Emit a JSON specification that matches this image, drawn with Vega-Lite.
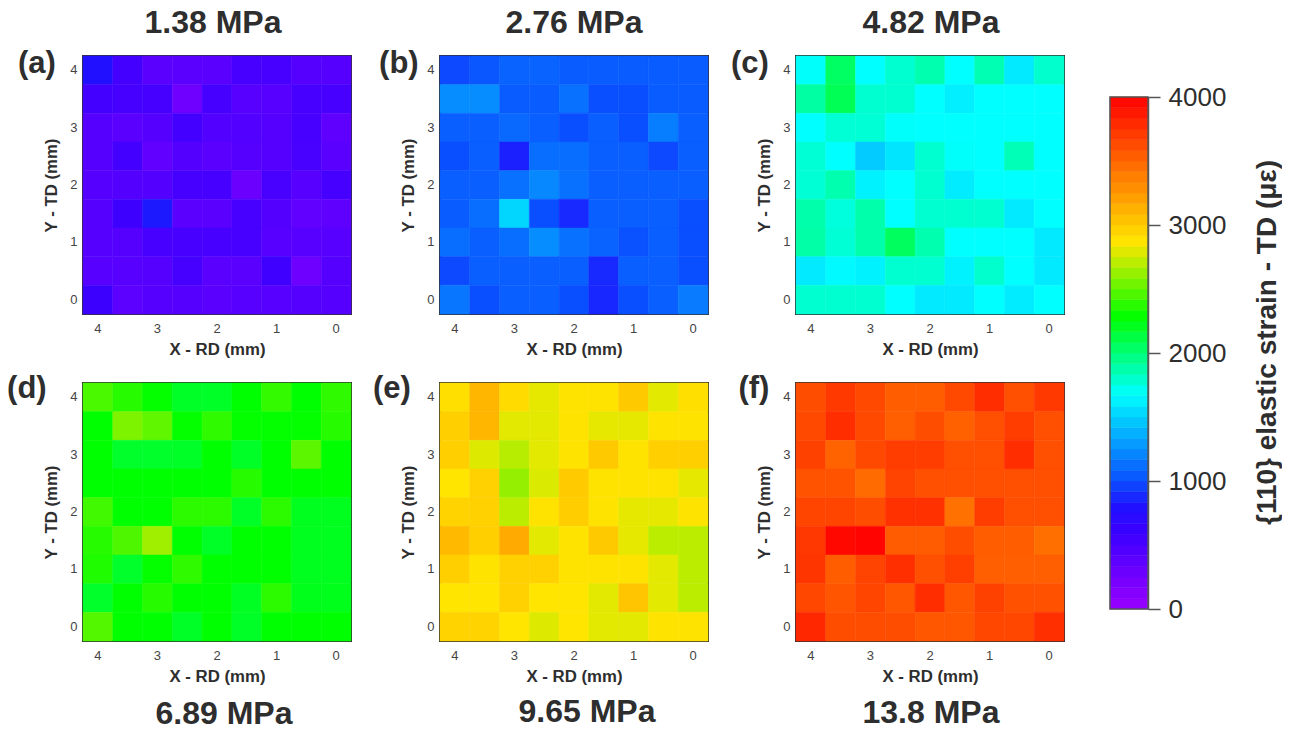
{"$schema":"https://vega.github.io/schema/vega-lite/v6.json","background":"white","padding":{"left":6,"top":6,"right":0,"bottom":0},"spacing":43,
"config":{"view":{"stroke":"#333333","strokeWidth":2},"font":"Liberation Sans","title":{"font":"Liberation Sans","fontSize":32,"fontWeight":"bold","color":"#2e2e2e"},"axis":{"labelFont":"Liberation Sans","titleFont":"Liberation Sans","labelColor":"#444444","titleColor":"#2e2e2e","labelFontSize":13,"titleFontSize":16.8,"titleFontWeight":"bold","ticks":false,"domain":false,"grid":false}},
"datasets":{
"a":[{"x":4,"y":4,"v":800},{"x":3.5,"y":4,"v":540},{"x":3,"y":4,"v":400},{"x":2.5,"y":4,"v":400},{"x":2,"y":4,"v":400},{"x":1.5,"y":4,"v":520},{"x":1,"y":4,"v":520},{"x":0.5,"y":4,"v":430},{"x":0,"y":4,"v":430},
{"x":4,"y":3.5,"v":540},{"x":3.5,"y":3.5,"v":530},{"x":3,"y":3.5,"v":530},{"x":2.5,"y":3.5,"v":270},{"x":2,"y":3.5,"v":530},{"x":1.5,"y":3.5,"v":420},{"x":1,"y":3.5,"v":420},{"x":0.5,"y":3.5,"v":520},{"x":0,"y":3.5,"v":520},
{"x":4,"y":3,"v":430},{"x":3.5,"y":3,"v":400},{"x":3,"y":3,"v":430},{"x":2.5,"y":3,"v":540},{"x":2,"y":3,"v":450},{"x":1.5,"y":3,"v":450},{"x":1,"y":3,"v":430},{"x":0.5,"y":3,"v":520},{"x":0,"y":3,"v":370},
{"x":4,"y":2.5,"v":430},{"x":3.5,"y":2.5,"v":540},{"x":3,"y":2.5,"v":350},{"x":2.5,"y":2.5,"v":440},{"x":2,"y":2.5,"v":400},{"x":1.5,"y":2.5,"v":430},{"x":1,"y":2.5,"v":430},{"x":0.5,"y":2.5,"v":510},{"x":0,"y":2.5,"v":400},
{"x":4,"y":2,"v":430},{"x":3.5,"y":2,"v":440},{"x":3,"y":2,"v":440},{"x":2.5,"y":2,"v":530},{"x":2,"y":2,"v":530},{"x":1.5,"y":2,"v":290},{"x":1,"y":2,"v":510},{"x":0.5,"y":2,"v":420},{"x":0,"y":2,"v":530},
{"x":4,"y":1.5,"v":430},{"x":3.5,"y":1.5,"v":580},{"x":3,"y":1.5,"v":830},{"x":2.5,"y":1.5,"v":400},{"x":2,"y":1.5,"v":400},{"x":1.5,"y":1.5,"v":520},{"x":1,"y":1.5,"v":440},{"x":0.5,"y":1.5,"v":350},{"x":0,"y":1.5,"v":370},
{"x":4,"y":1,"v":430},{"x":3.5,"y":1,"v":430},{"x":3,"y":1,"v":520},{"x":2.5,"y":1,"v":520},{"x":2,"y":1,"v":520},{"x":1.5,"y":1,"v":520},{"x":1,"y":1,"v":420},{"x":0.5,"y":1,"v":420},{"x":0,"y":1,"v":420},
{"x":4,"y":0.5,"v":420},{"x":3.5,"y":0.5,"v":420},{"x":3,"y":0.5,"v":430},{"x":2.5,"y":0.5,"v":530},{"x":2,"y":0.5,"v":400},{"x":1.5,"y":0.5,"v":400},{"x":1,"y":0.5,"v":570},{"x":0.5,"y":0.5,"v":280},{"x":0,"y":0.5,"v":430},
{"x":4,"y":0,"v":590},{"x":3.5,"y":0,"v":390},{"x":3,"y":0,"v":430},{"x":2.5,"y":0,"v":430},{"x":2,"y":0,"v":400},{"x":1.5,"y":0,"v":420},{"x":1,"y":0,"v":420},{"x":0.5,"y":0,"v":430},{"x":0,"y":0,"v":430}],
"b":[{"x":4,"y":4,"v":980},{"x":3.5,"y":4,"v":1030},{"x":3,"y":4,"v":1080},{"x":2.5,"y":4,"v":1080},{"x":2,"y":4,"v":1050},{"x":1.5,"y":4,"v":1050},{"x":1,"y":4,"v":1050},{"x":0.5,"y":4,"v":1050},{"x":0,"y":4,"v":1050},
{"x":4,"y":3.5,"v":1240},{"x":3.5,"y":3.5,"v":1240},{"x":3,"y":3.5,"v":1050},{"x":2.5,"y":3.5,"v":1050},{"x":2,"y":3.5,"v":1130},{"x":1.5,"y":3.5,"v":1000},{"x":1,"y":3.5,"v":1000},{"x":0.5,"y":3.5,"v":1050},{"x":0,"y":3.5,"v":1050},
{"x":4,"y":3,"v":1060},{"x":3.5,"y":3,"v":1060},{"x":3,"y":3,"v":1100},{"x":2.5,"y":3,"v":1060},{"x":2,"y":3,"v":1000},{"x":1.5,"y":3,"v":1060},{"x":1,"y":3,"v":1000},{"x":0.5,"y":3,"v":1180},{"x":0,"y":3,"v":1060},
{"x":4,"y":2.5,"v":1000},{"x":3.5,"y":2.5,"v":1060},{"x":3,"y":2.5,"v":850},{"x":2.5,"y":2.5,"v":1120},{"x":2,"y":2.5,"v":1120},{"x":1.5,"y":2.5,"v":1060},{"x":1,"y":2.5,"v":1060},{"x":0.5,"y":2.5,"v":980},{"x":0,"y":2.5,"v":1060},
{"x":4,"y":2,"v":1060},{"x":3.5,"y":2,"v":1060},{"x":3,"y":2,"v":1130},{"x":2.5,"y":2,"v":1220},{"x":2,"y":2,"v":1130},{"x":1.5,"y":2,"v":1060},{"x":1,"y":2,"v":1060},{"x":0.5,"y":2,"v":1060},{"x":0,"y":2,"v":1060},
{"x":4,"y":1.5,"v":1050},{"x":3.5,"y":1.5,"v":1120},{"x":3,"y":1.5,"v":1520},{"x":2.5,"y":1.5,"v":1000},{"x":2,"y":1.5,"v":880},{"x":1.5,"y":1.5,"v":1060},{"x":1,"y":1.5,"v":1060},{"x":0.5,"y":1.5,"v":1060},{"x":0,"y":1.5,"v":1000},
{"x":4,"y":1,"v":1120},{"x":3.5,"y":1,"v":1060},{"x":3,"y":1,"v":1120},{"x":2.5,"y":1,"v":1240},{"x":2,"y":1,"v":1130},{"x":1.5,"y":1,"v":1080},{"x":1,"y":1,"v":1010},{"x":0.5,"y":1,"v":1060},{"x":0,"y":1,"v":1000},
{"x":4,"y":0.5,"v":980},{"x":3.5,"y":0.5,"v":1060},{"x":3,"y":0.5,"v":1060},{"x":2.5,"y":0.5,"v":1060},{"x":2,"y":0.5,"v":1060},{"x":1.5,"y":0.5,"v":880},{"x":1,"y":0.5,"v":1060},{"x":0.5,"y":0.5,"v":1060},{"x":0,"y":0.5,"v":1000},
{"x":4,"y":0,"v":1150},{"x":3.5,"y":0,"v":1000},{"x":3,"y":0,"v":1060},{"x":2.5,"y":0,"v":1060},{"x":2,"y":0,"v":1000},{"x":1.5,"y":0,"v":870},{"x":1,"y":0,"v":1000},{"x":0.5,"y":0,"v":1060},{"x":0,"y":0,"v":1170}],
"c":[{"x":4,"y":4,"v":1690},{"x":3.5,"y":4,"v":2050},{"x":3,"y":4,"v":1680},{"x":2.5,"y":4,"v":1790},{"x":2,"y":4,"v":1870},{"x":1.5,"y":4,"v":1680},{"x":1,"y":4,"v":1860},{"x":0.5,"y":4,"v":1600},{"x":0,"y":4,"v":1800},
{"x":4,"y":3.5,"v":1900},{"x":3.5,"y":3.5,"v":2080},{"x":3,"y":3.5,"v":1790},{"x":2.5,"y":3.5,"v":1790},{"x":2,"y":3.5,"v":1680},{"x":1.5,"y":3.5,"v":1620},{"x":1,"y":3.5,"v":1680},{"x":0.5,"y":3.5,"v":1680},{"x":0,"y":3.5,"v":1680},
{"x":4,"y":3,"v":1680},{"x":3.5,"y":3,"v":1780},{"x":3,"y":3,"v":1780},{"x":2.5,"y":3,"v":1690},{"x":2,"y":3,"v":1680},{"x":1.5,"y":3,"v":1680},{"x":1,"y":3,"v":1680},{"x":0.5,"y":3,"v":1680},{"x":0,"y":3,"v":1680},
{"x":4,"y":2.5,"v":1780},{"x":3.5,"y":2.5,"v":1680},{"x":3,"y":2.5,"v":1480},{"x":2.5,"y":2.5,"v":1580},{"x":2,"y":2.5,"v":1790},{"x":1.5,"y":2.5,"v":1690},{"x":1,"y":2.5,"v":1680},{"x":0.5,"y":2.5,"v":1850},{"x":0,"y":2.5,"v":1680},
{"x":4,"y":2,"v":1780},{"x":3.5,"y":2,"v":1870},{"x":3,"y":2,"v":1630},{"x":2.5,"y":2,"v":1680},{"x":2,"y":2,"v":1790},{"x":1.5,"y":2,"v":1610},{"x":1,"y":2,"v":1680},{"x":0.5,"y":2,"v":1680},{"x":0,"y":2,"v":1680},
{"x":4,"y":1.5,"v":1880},{"x":3.5,"y":1.5,"v":1760},{"x":3,"y":1.5,"v":1880},{"x":2.5,"y":1.5,"v":1680},{"x":2,"y":1.5,"v":1790},{"x":1.5,"y":1.5,"v":1790},{"x":1,"y":1.5,"v":1790},{"x":0.5,"y":1.5,"v":1600},{"x":0,"y":1.5,"v":1680},
{"x":4,"y":1,"v":1890},{"x":3.5,"y":1,"v":1780},{"x":3,"y":1,"v":1880},{"x":2.5,"y":1,"v":2060},{"x":2,"y":1,"v":1870},{"x":1.5,"y":1,"v":1680},{"x":1,"y":1,"v":1680},{"x":0.5,"y":1,"v":1680},{"x":0,"y":1,"v":1600},
{"x":4,"y":0.5,"v":1600},{"x":3.5,"y":0.5,"v":1660},{"x":3,"y":0.5,"v":1630},{"x":2.5,"y":0.5,"v":1790},{"x":2,"y":0.5,"v":1790},{"x":1.5,"y":0.5,"v":1630},{"x":1,"y":0.5,"v":1800},{"x":0.5,"y":0.5,"v":1680},{"x":0,"y":0.5,"v":1600},
{"x":4,"y":0,"v":1790},{"x":3.5,"y":0,"v":1790},{"x":3,"y":0,"v":1790},{"x":2.5,"y":0,"v":1680},{"x":2,"y":0,"v":1600},{"x":1.5,"y":0,"v":1600},{"x":1,"y":0,"v":1680},{"x":0.5,"y":0,"v":1610},{"x":0,"y":0,"v":1680}],
"d":[{"x":4,"y":4,"v":2450},{"x":3.5,"y":4,"v":2370},{"x":3,"y":4,"v":2290},{"x":2.5,"y":4,"v":2190},{"x":2,"y":4,"v":2190},{"x":1.5,"y":4,"v":2280},{"x":1,"y":4,"v":2400},{"x":0.5,"y":4,"v":2280},{"x":0,"y":4,"v":2390},
{"x":4,"y":3.5,"v":2280},{"x":3.5,"y":3.5,"v":2570},{"x":3,"y":3.5,"v":2500},{"x":2.5,"y":3.5,"v":2290},{"x":2,"y":3.5,"v":2390},{"x":1.5,"y":3.5,"v":2290},{"x":1,"y":3.5,"v":2290},{"x":0.5,"y":3.5,"v":2290},{"x":0,"y":3.5,"v":2370},
{"x":4,"y":3,"v":2280},{"x":3.5,"y":3,"v":2180},{"x":3,"y":3,"v":2180},{"x":2.5,"y":3,"v":2190},{"x":2,"y":3,"v":2280},{"x":1.5,"y":3,"v":2190},{"x":1,"y":3,"v":2280},{"x":0.5,"y":3,"v":2490},{"x":0,"y":3,"v":2280},
{"x":4,"y":2.5,"v":2280},{"x":3.5,"y":2.5,"v":2280},{"x":3,"y":2.5,"v":2280},{"x":2.5,"y":2.5,"v":2280},{"x":2,"y":2.5,"v":2280},{"x":1.5,"y":2.5,"v":2370},{"x":1,"y":2.5,"v":2280},{"x":0.5,"y":2.5,"v":2280},{"x":0,"y":2.5,"v":2280},
{"x":4,"y":2,"v":2430},{"x":3.5,"y":2,"v":2280},{"x":3,"y":2,"v":2280},{"x":2.5,"y":2,"v":2380},{"x":2,"y":2,"v":2380},{"x":1.5,"y":2,"v":2190},{"x":1,"y":2,"v":2380},{"x":0.5,"y":2,"v":2210},{"x":0,"y":2,"v":2210},
{"x":4,"y":1.5,"v":2370},{"x":3.5,"y":1.5,"v":2460},{"x":3,"y":1.5,"v":2650},{"x":2.5,"y":1.5,"v":2280},{"x":2,"y":1.5,"v":2190},{"x":1.5,"y":1.5,"v":2280},{"x":1,"y":1.5,"v":2280},{"x":0.5,"y":1.5,"v":2210},{"x":0,"y":1.5,"v":2210},
{"x":4,"y":1,"v":2350},{"x":3.5,"y":1,"v":2180},{"x":3,"y":1,"v":2290},{"x":2.5,"y":1,"v":2390},{"x":2,"y":1,"v":2280},{"x":1.5,"y":1,"v":2280},{"x":1,"y":1,"v":2280},{"x":0.5,"y":1,"v":2210},{"x":0,"y":1,"v":2210},
{"x":4,"y":0.5,"v":2180},{"x":3.5,"y":0.5,"v":2280},{"x":3,"y":0.5,"v":2370},{"x":2.5,"y":0.5,"v":2280},{"x":2,"y":0.5,"v":2280},{"x":1.5,"y":0.5,"v":2200},{"x":1,"y":0.5,"v":2380},{"x":0.5,"y":0.5,"v":2220},{"x":0,"y":0.5,"v":2220},
{"x":4,"y":0,"v":2470},{"x":3.5,"y":0,"v":2280},{"x":3,"y":0,"v":2280},{"x":2.5,"y":0,"v":2190},{"x":2,"y":0,"v":2280},{"x":1.5,"y":0,"v":2190},{"x":1,"y":0,"v":2280},{"x":0.5,"y":0,"v":2280},{"x":0,"y":0,"v":2280}],
"e":[{"x":4,"y":4,"v":2900},{"x":3.5,"y":4,"v":3100},{"x":3,"y":4,"v":2920},{"x":2.5,"y":4,"v":2810},{"x":2,"y":4,"v":2880},{"x":1.5,"y":4,"v":2880},{"x":1,"y":4,"v":3010},{"x":0.5,"y":4,"v":2800},{"x":0,"y":4,"v":2900},
{"x":4,"y":3.5,"v":2980},{"x":3.5,"y":3.5,"v":3100},{"x":3,"y":3.5,"v":2800},{"x":2.5,"y":3.5,"v":2800},{"x":2,"y":3.5,"v":2880},{"x":1.5,"y":3.5,"v":2810},{"x":1,"y":3.5,"v":2810},{"x":0.5,"y":3.5,"v":2880},{"x":0,"y":3.5,"v":2880},
{"x":4,"y":3,"v":2980},{"x":3.5,"y":3,"v":2790},{"x":3,"y":3,"v":2700},{"x":2.5,"y":3,"v":2800},{"x":2,"y":3,"v":2880},{"x":1.5,"y":3,"v":3010},{"x":1,"y":3,"v":2880},{"x":0.5,"y":3,"v":2980},{"x":0,"y":3,"v":2980},
{"x":4,"y":2.5,"v":2870},{"x":3.5,"y":2.5,"v":2970},{"x":3,"y":2.5,"v":2620},{"x":2.5,"y":2.5,"v":2780},{"x":2,"y":2.5,"v":3000},{"x":1.5,"y":2.5,"v":2880},{"x":1,"y":2.5,"v":2880},{"x":0.5,"y":2.5,"v":2880},{"x":0,"y":2.5,"v":2810},
{"x":4,"y":2,"v":2960},{"x":3.5,"y":2,"v":2970},{"x":3,"y":2,"v":2710},{"x":2.5,"y":2,"v":2880},{"x":2,"y":2,"v":2990},{"x":1.5,"y":2,"v":2880},{"x":1,"y":2,"v":2810},{"x":0.5,"y":2,"v":2810},{"x":0,"y":2,"v":2880},
{"x":4,"y":1.5,"v":3080},{"x":3.5,"y":1.5,"v":2980},{"x":3,"y":1.5,"v":3160},{"x":2.5,"y":1.5,"v":2800},{"x":2,"y":1.5,"v":2880},{"x":1.5,"y":1.5,"v":3010},{"x":1,"y":1.5,"v":2810},{"x":0.5,"y":1.5,"v":2710},{"x":0,"y":1.5,"v":2710},
{"x":4,"y":1,"v":2980},{"x":3.5,"y":1,"v":2880},{"x":3,"y":1,"v":2970},{"x":2.5,"y":1,"v":2970},{"x":2,"y":1,"v":2880},{"x":1.5,"y":1,"v":2880},{"x":1,"y":1,"v":2880},{"x":0.5,"y":1,"v":2800},{"x":0,"y":1,"v":2710},
{"x":4,"y":0.5,"v":2870},{"x":3.5,"y":0.5,"v":2870},{"x":3,"y":0.5,"v":2970},{"x":2.5,"y":0.5,"v":2870},{"x":2,"y":0.5,"v":2870},{"x":1.5,"y":0.5,"v":2800},{"x":1,"y":0.5,"v":3030},{"x":0.5,"y":0.5,"v":2800},{"x":0,"y":0.5,"v":2710},
{"x":4,"y":0,"v":2960},{"x":3.5,"y":0,"v":2960},{"x":3,"y":0,"v":2870},{"x":2.5,"y":0,"v":2790},{"x":2,"y":0,"v":2870},{"x":1.5,"y":0,"v":2800},{"x":1,"y":0,"v":2800},{"x":0.5,"y":0,"v":2880},{"x":0,"y":0,"v":2880}],
"f":[{"x":4,"y":4,"v":3620},{"x":3.5,"y":4,"v":3720},{"x":3,"y":4,"v":3640},{"x":2.5,"y":4,"v":3540},{"x":2,"y":4,"v":3540},{"x":1.5,"y":4,"v":3640},{"x":1,"y":4,"v":3780},{"x":0.5,"y":4,"v":3610},{"x":0,"y":4,"v":3720},
{"x":4,"y":3.5,"v":3640},{"x":3.5,"y":3.5,"v":3780},{"x":3,"y":3.5,"v":3640},{"x":2.5,"y":3.5,"v":3530},{"x":2,"y":3.5,"v":3620},{"x":1.5,"y":3.5,"v":3520},{"x":1,"y":3.5,"v":3610},{"x":0.5,"y":3.5,"v":3700},{"x":0,"y":3.5,"v":3610},
{"x":4,"y":3,"v":3680},{"x":3.5,"y":3,"v":3510},{"x":3,"y":3,"v":3640},{"x":2.5,"y":3,"v":3700},{"x":2,"y":3,"v":3700},{"x":1.5,"y":3,"v":3610},{"x":1,"y":3,"v":3610},{"x":0.5,"y":3,"v":3780},{"x":0,"y":3,"v":3610},
{"x":4,"y":2.5,"v":3590},{"x":3.5,"y":2.5,"v":3590},{"x":3,"y":2.5,"v":3470},{"x":2.5,"y":2.5,"v":3670},{"x":2,"y":2.5,"v":3610},{"x":1.5,"y":2.5,"v":3610},{"x":1,"y":2.5,"v":3610},{"x":0.5,"y":2.5,"v":3610},{"x":0,"y":2.5,"v":3610},
{"x":4,"y":2,"v":3660},{"x":3.5,"y":2,"v":3660},{"x":3,"y":2,"v":3620},{"x":2.5,"y":2,"v":3760},{"x":2,"y":2,"v":3760},{"x":1.5,"y":2,"v":3440},{"x":1,"y":2,"v":3700},{"x":0.5,"y":2,"v":3610},{"x":0,"y":2,"v":3610},
{"x":4,"y":1.5,"v":3730},{"x":3.5,"y":1.5,"v":3960},{"x":3,"y":1.5,"v":3980},{"x":2.5,"y":1.5,"v":3550},{"x":2,"y":1.5,"v":3550},{"x":1.5,"y":1.5,"v":3620},{"x":1,"y":1.5,"v":3540},{"x":0.5,"y":1.5,"v":3540},{"x":0,"y":1.5,"v":3450},
{"x":4,"y":1,"v":3740},{"x":3.5,"y":1,"v":3540},{"x":3,"y":1,"v":3670},{"x":2.5,"y":1,"v":3770},{"x":2,"y":1,"v":3610},{"x":1.5,"y":1,"v":3690},{"x":1,"y":1,"v":3530},{"x":0.5,"y":1,"v":3530},{"x":0,"y":1,"v":3530},
{"x":4,"y":0.5,"v":3650},{"x":3.5,"y":0.5,"v":3580},{"x":3,"y":0.5,"v":3660},{"x":2.5,"y":0.5,"v":3570},{"x":2,"y":0.5,"v":3780},{"x":1.5,"y":0.5,"v":3570},{"x":1,"y":0.5,"v":3680},{"x":0.5,"y":0.5,"v":3600},{"x":0,"y":0.5,"v":3600},
{"x":4,"y":0,"v":3810},{"x":3.5,"y":0,"v":3620},{"x":3,"y":0,"v":3620},{"x":2.5,"y":0,"v":3620},{"x":2,"y":0,"v":3570},{"x":1.5,"y":0,"v":3570},{"x":1,"y":0,"v":3650},{"x":0.5,"y":0,"v":3650},{"x":0,"y":0,"v":3770}],
"bands":[{"b0":0,"b1":84,"v":42},{"b0":83,"b1":167,"v":125},{"b0":167,"b1":251,"v":208},{"b0":250,"b1":334,"v":292},{"b0":333,"b1":417,"v":375},{"b0":417,"b1":501,"v":458},{"b0":500,"b1":584,"v":542},{"b0":583,"b1":667,"v":625},{"b0":667,"b1":751,"v":708},{"b0":750,"b1":834,"v":792},{"b0":833,"b1":917,"v":875},{"b0":917,"b1":1001,"v":958},{"b0":1000,"b1":1084,"v":1042},{"b0":1083,"b1":1167,"v":1125},{"b0":1167,"b1":1251,"v":1208},{"b0":1250,"b1":1334,"v":1292},{"b0":1333,"b1":1417,"v":1375},{"b0":1417,"b1":1501,"v":1458},{"b0":1500,"b1":1584,"v":1542},{"b0":1583,"b1":1667,"v":1625},{"b0":1667,"b1":1751,"v":1708},{"b0":1750,"b1":1834,"v":1792},{"b0":1833,"b1":1917,"v":1875},{"b0":1917,"b1":2001,"v":1958},{"b0":2000,"b1":2084,"v":2042},{"b0":2083,"b1":2167,"v":2125},{"b0":2167,"b1":2251,"v":2208},{"b0":2250,"b1":2334,"v":2292},{"b0":2333,"b1":2417,"v":2375},{"b0":2417,"b1":2501,"v":2458},{"b0":2500,"b1":2584,"v":2542},{"b0":2583,"b1":2667,"v":2625},{"b0":2667,"b1":2751,"v":2708},{"b0":2750,"b1":2834,"v":2792},{"b0":2833,"b1":2917,"v":2875},{"b0":2917,"b1":3001,"v":2958},{"b0":3000,"b1":3084,"v":3042},{"b0":3083,"b1":3167,"v":3125},{"b0":3167,"b1":3251,"v":3208},{"b0":3250,"b1":3334,"v":3292},{"b0":3333,"b1":3417,"v":3375},{"b0":3417,"b1":3501,"v":3458},{"b0":3500,"b1":3584,"v":3542},{"b0":3583,"b1":3667,"v":3625},{"b0":3667,"b1":3751,"v":3708},{"b0":3750,"b1":3834,"v":3792},{"b0":3833,"b1":3917,"v":3875},{"b0":3917,"b1":4000,"v":3958}]
},
"hconcat":[
{"spacing":19,"hconcat":[
{"spacing":18,"hconcat":[
{"bounds":"flush","spacing":69,"vconcat":[
{"width":268,"height":258,"title":{"text":"1.38 MPa","offset":8,"dx":-4},"encoding":{"x":{"field":"x","type":"ordinal","title":"X - RD (mm)","scale":{"domain":[4,3.5,3,2.5,2,1.5,1,0.5,0],"paddingInner":0,"paddingOuter":0},"axis":{"values":[4,3,2,1,0],"labelAngle":0,"labelPadding":8,"titlePadding":6}},"y":{"field":"y","type":"ordinal","title":"Y - TD (mm)","scale":{"domain":[4,3.5,3,2.5,2,1.5,1,0.5,0],"paddingInner":0,"paddingOuter":0},"axis":{"values":[4,3,2,1,0],"labelPadding":6,"titlePadding":9}}},"layer":[{"data":{"name":"a"},"mark":{"type":"rect","strokeWidth":0.5},"encoding":{"color":{"field":"v","type":"quantitative","legend":null,"scale":{"interpolate":"rgb","domain":[0,600,800,1000,1680,2280,2865,4000],"range":["#9a00ff","#3a00ff","#2010ff","#0a4fff","#00ffff","#00ff00","#ffe600","#ff0000"]}},"stroke":{"field":"v","type":"quantitative","legend":null,"scale":{"interpolate":"rgb","domain":[0,600,800,1000,1680,2280,2865,4000],"range":["#9a00ff","#3a00ff","#2010ff","#0a4fff","#00ffff","#00ff00","#ffe600","#ff0000"]}}}},{"data":{"values":[{"x":4,"y":4,"l":"(a)"}]},"mark":{"type":"text","dx":-61,"dy":-6,"fontSize":31,"fontWeight":"bold","color":"#2e2e2e"},"encoding":{"text":{"field":"l"}}}]},
{"width":268,"height":258,"title":{"text":"6.89 MPa","orient":"bottom","offset":14,"dx":7},"encoding":{"x":{"field":"x","type":"ordinal","title":"X - RD (mm)","scale":{"domain":[4,3.5,3,2.5,2,1.5,1,0.5,0],"paddingInner":0,"paddingOuter":0},"axis":{"values":[4,3,2,1,0],"labelAngle":0,"labelPadding":8,"titlePadding":6}},"y":{"field":"y","type":"ordinal","title":"Y - TD (mm)","scale":{"domain":[4,3.5,3,2.5,2,1.5,1,0.5,0],"paddingInner":0,"paddingOuter":0},"axis":{"values":[4,3,2,1,0],"labelPadding":6,"titlePadding":9}}},"layer":[{"data":{"name":"d"},"mark":{"type":"rect","strokeWidth":0.5},"encoding":{"color":{"field":"v","type":"quantitative","legend":null,"scale":{"interpolate":"rgb","domain":[0,600,800,1000,1680,2280,2865,4000],"range":["#9a00ff","#3a00ff","#2010ff","#0a4fff","#00ffff","#00ff00","#ffe600","#ff0000"]}},"stroke":{"field":"v","type":"quantitative","legend":null,"scale":{"interpolate":"rgb","domain":[0,600,800,1000,1680,2280,2865,4000],"range":["#9a00ff","#3a00ff","#2010ff","#0a4fff","#00ffff","#00ff00","#ffe600","#ff0000"]}}}},{"data":{"values":[{"x":4,"y":4,"l":"(d)"}]},"mark":{"type":"text","dx":-71,"dy":-8,"fontSize":31,"fontWeight":"bold","color":"#2e2e2e"},"encoding":{"text":{"field":"l"}}}]}
]},
{"bounds":"flush","spacing":69,"vconcat":[
{"width":268,"height":258,"title":{"text":"2.76 MPa","offset":8,"dx":0},"encoding":{"x":{"field":"x","type":"ordinal","title":"X - RD (mm)","scale":{"domain":[4,3.5,3,2.5,2,1.5,1,0.5,0],"paddingInner":0,"paddingOuter":0},"axis":{"values":[4,3,2,1,0],"labelAngle":0,"labelPadding":8,"titlePadding":6}},"y":{"field":"y","type":"ordinal","title":"Y - TD (mm)","scale":{"domain":[4,3.5,3,2.5,2,1.5,1,0.5,0],"paddingInner":0,"paddingOuter":0},"axis":{"values":[4,3,2,1,0],"labelPadding":6,"titlePadding":9}}},"layer":[{"data":{"name":"b"},"mark":{"type":"rect","strokeWidth":0.5},"encoding":{"color":{"field":"v","type":"quantitative","legend":null,"scale":{"interpolate":"rgb","domain":[0,600,800,1000,1680,2280,2865,4000],"range":["#9a00ff","#3a00ff","#2010ff","#0a4fff","#00ffff","#00ff00","#ffe600","#ff0000"]}},"stroke":{"field":"v","type":"quantitative","legend":null,"scale":{"interpolate":"rgb","domain":[0,600,800,1000,1680,2280,2865,4000],"range":["#9a00ff","#3a00ff","#2010ff","#0a4fff","#00ffff","#00ff00","#ffe600","#ff0000"]}}}},{"data":{"values":[{"x":4,"y":4,"l":"(b)"}]},"mark":{"type":"text","dx":-56,"dy":-6,"fontSize":31,"fontWeight":"bold","color":"#2e2e2e"},"encoding":{"text":{"field":"l"}}}]},
{"width":268,"height":258,"title":{"text":"9.65 MPa","orient":"bottom","offset":12,"dx":13},"encoding":{"x":{"field":"x","type":"ordinal","title":"X - RD (mm)","scale":{"domain":[4,3.5,3,2.5,2,1.5,1,0.5,0],"paddingInner":0,"paddingOuter":0},"axis":{"values":[4,3,2,1,0],"labelAngle":0,"labelPadding":8,"titlePadding":6}},"y":{"field":"y","type":"ordinal","title":"Y - TD (mm)","scale":{"domain":[4,3.5,3,2.5,2,1.5,1,0.5,0],"paddingInner":0,"paddingOuter":0},"axis":{"values":[4,3,2,1,0],"labelPadding":6,"titlePadding":9}}},"layer":[{"data":{"name":"e"},"mark":{"type":"rect","strokeWidth":0.5},"encoding":{"color":{"field":"v","type":"quantitative","legend":null,"scale":{"interpolate":"rgb","domain":[0,600,800,1000,1680,2280,2865,4000],"range":["#9a00ff","#3a00ff","#2010ff","#0a4fff","#00ffff","#00ff00","#ffe600","#ff0000"]}},"stroke":{"field":"v","type":"quantitative","legend":null,"scale":{"interpolate":"rgb","domain":[0,600,800,1000,1680,2280,2865,4000],"range":["#9a00ff","#3a00ff","#2010ff","#0a4fff","#00ffff","#00ff00","#ffe600","#ff0000"]}}}},{"data":{"values":[{"x":4,"y":4,"l":"(e)"}]},"mark":{"type":"text","dx":-63,"dy":-8,"fontSize":31,"fontWeight":"bold","color":"#2e2e2e"},"encoding":{"text":{"field":"l"}}}]}
]}
]},
{"bounds":"flush","spacing":69,"vconcat":[
{"width":268,"height":258,"title":{"text":"4.82 MPa","offset":8,"dx":1},"encoding":{"x":{"field":"x","type":"ordinal","title":"X - RD (mm)","scale":{"domain":[4,3.5,3,2.5,2,1.5,1,0.5,0],"paddingInner":0,"paddingOuter":0},"axis":{"values":[4,3,2,1,0],"labelAngle":0,"labelPadding":8,"titlePadding":6}},"y":{"field":"y","type":"ordinal","title":"Y - TD (mm)","scale":{"domain":[4,3.5,3,2.5,2,1.5,1,0.5,0],"paddingInner":0,"paddingOuter":0},"axis":{"values":[4,3,2,1,0],"labelPadding":6,"titlePadding":9}}},"layer":[{"data":{"name":"c"},"mark":{"type":"rect","strokeWidth":0.5},"encoding":{"color":{"field":"v","type":"quantitative","legend":null,"scale":{"interpolate":"rgb","domain":[0,600,800,1000,1680,2280,2865,4000],"range":["#9a00ff","#3a00ff","#2010ff","#0a4fff","#00ffff","#00ff00","#ffe600","#ff0000"]}},"stroke":{"field":"v","type":"quantitative","legend":null,"scale":{"interpolate":"rgb","domain":[0,600,800,1000,1680,2280,2865,4000],"range":["#9a00ff","#3a00ff","#2010ff","#0a4fff","#00ffff","#00ff00","#ffe600","#ff0000"]}}}},{"data":{"values":[{"x":4,"y":4,"l":"(c)"}]},"mark":{"type":"text","dx":-61,"dy":-6,"fontSize":31,"fontWeight":"bold","color":"#2e2e2e"},"encoding":{"text":{"field":"l"}}}]},
{"width":268,"height":258,"title":{"text":"13.8 MPa","orient":"bottom","offset":13,"dx":1},"encoding":{"x":{"field":"x","type":"ordinal","title":"X - RD (mm)","scale":{"domain":[4,3.5,3,2.5,2,1.5,1,0.5,0],"paddingInner":0,"paddingOuter":0},"axis":{"values":[4,3,2,1,0],"labelAngle":0,"labelPadding":8,"titlePadding":6}},"y":{"field":"y","type":"ordinal","title":"Y - TD (mm)","scale":{"domain":[4,3.5,3,2.5,2,1.5,1,0.5,0],"paddingInner":0,"paddingOuter":0},"axis":{"values":[4,3,2,1,0],"labelPadding":6,"titlePadding":9}}},"layer":[{"data":{"name":"f"},"mark":{"type":"rect","strokeWidth":0.5},"encoding":{"color":{"field":"v","type":"quantitative","legend":null,"scale":{"interpolate":"rgb","domain":[0,600,800,1000,1680,2280,2865,4000],"range":["#9a00ff","#3a00ff","#2010ff","#0a4fff","#00ffff","#00ff00","#ffe600","#ff0000"]}},"stroke":{"field":"v","type":"quantitative","legend":null,"scale":{"interpolate":"rgb","domain":[0,600,800,1000,1680,2280,2865,4000],"range":["#9a00ff","#3a00ff","#2010ff","#0a4fff","#00ffff","#00ff00","#ffe600","#ff0000"]}}}},{"data":{"values":[{"x":4,"y":4,"l":"(f)"}]},"mark":{"type":"text","dx":-57,"dy":-8,"fontSize":31,"fontWeight":"bold","color":"#2e2e2e"},"encoding":{"text":{"field":"l"}}}]}
]}
]},
{"width":38,"height":585,"view":{"stroke":null},"encoding":{"y":{"field":"b0","type":"quantitative","scale":{"domain":[0,4000],"range":[553,41],"nice":false},"axis":{"values":[0,1000,2000,3000,4000],"format":"d","orient":"right","ticks":true,"tickSize":12,"tickColor":"#555555","tickWidth":1.5,"domain":true,"domainColor":"#555555","domainWidth":1.5,"labelFontSize":26,"labelColor":"#2e2e2e","labelPadding":8,"title":"{110} elastic strain - TD (με)","titleFontSize":28,"titleAngle":270,"titleBaseline":"top","titlePadding":28,"titleY":286}},"y2":{"field":"b1"}},"layer":[{"data":{"name":"bands"},"mark":{"type":"rect","strokeWidth":0.5},"encoding":{"color":{"field":"v","type":"quantitative","legend":null,"scale":{"interpolate":"rgb","domain":[0,600,800,1000,1680,2280,2865,4000],"range":["#9a00ff","#3a00ff","#2010ff","#0a4fff","#00ffff","#00ff00","#ffe600","#ff0000"]}},"stroke":{"field":"v","type":"quantitative","legend":null,"scale":{"interpolate":"rgb","domain":[0,600,800,1000,1680,2280,2865,4000],"range":["#9a00ff","#3a00ff","#2010ff","#0a4fff","#00ffff","#00ff00","#ffe600","#ff0000"]}}}},{"data":{"values":[{"b0":0,"b1":4000}]},"mark":{"type":"rect","filled":false,"stroke":"#555555","strokeWidth":1.5}}]}
]}
